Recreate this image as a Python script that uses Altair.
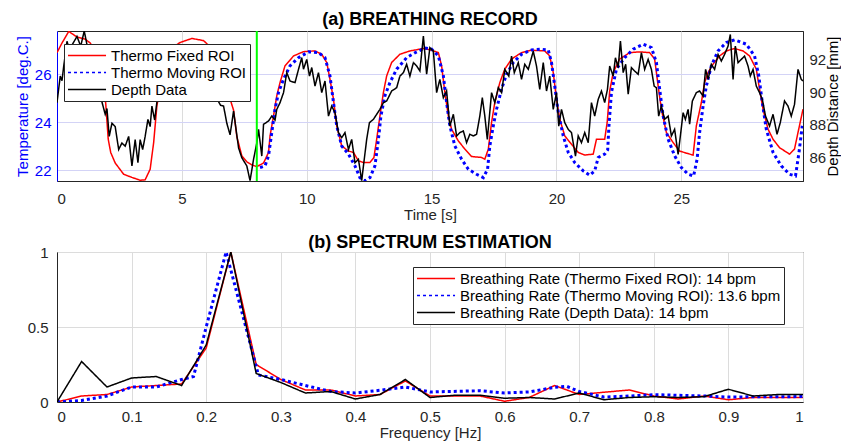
import altair as alt
import pandas as pd

# ---------------- data ----------------
# (a) breathing record: thermo fixed ROI (deg C)
t_fixed = [0, 0.2, 0.47, 0.8, 1.13, 1.33, 1.5, 1.65, 1.8, 1.95, 2.05, 2.15, 2.33, 2.67, 3.0, 3.33, 3.53, 3.73, 3.87, 4.0,
           4.15, 4.35, 4.6, 4.93, 5.4, 5.87, 6.07, 6.3, 6.55, 6.8, 6.95, 7.07, 7.2, 7.4, 7.6, 7.8, 8.0, 8.27, 8.47, 8.53,
           8.67, 8.8, 8.93, 9.13, 9.47, 9.87, 10.33, 10.6, 10.8, 10.93, 11.07, 11.2, 11.4, 11.67, 11.87, 12.07, 12.27,
           12.53, 12.69, 12.8, 12.93, 13.07, 13.2, 13.4, 13.73, 14.13, 14.67, 15.0, 15.27, 15.4, 15.53, 15.67, 15.8,
           16.07, 16.33, 16.6, 17.0, 17.13, 17.27, 17.4, 17.53, 17.73, 17.93, 18.2, 18.6, 19.0, 19.53, 19.73, 19.87,
           20.0, 20.13, 20.33, 20.6, 20.87, 21.13, 21.47, 21.6, 21.93, 22.03, 22.13, 22.27, 22.53, 22.93, 23.33, 23.73,
           23.93, 24.07, 24.2, 24.4, 24.67, 24.93, 25.2, 25.47, 25.6, 25.8, 25.93, 26.07, 26.27, 26.53, 26.8, 27.13,
           27.47, 27.73, 28.0, 28.13, 28.27, 28.47, 28.67, 28.93, 29.33, 29.53, 29.67, 29.87]
temp_fixed = [26.9, 27.3, 27.78, 27.55, 27.46, 27.3, 27.0, 26.3, 25.6, 24.8, 23.3, 22.74, 22.3, 21.83, 21.7, 21.58, 21.6,
              22.04, 23.15, 24.68, 25.6, 26.6, 27.1, 27.32, 27.49, 27.4, 27.2, 26.8, 26.1, 25.4, 24.9, 24.5, 23.4, 22.6,
              22.35, 22.22, 22.15, 22.3, 22.74, 23.43, 24.26, 25.1, 25.65, 26.35, 26.76, 26.94, 26.97, 26.83, 26.49,
              25.79, 24.96, 23.85, 23.01, 22.8, 22.74, 22.39, 22.32, 22.32, 22.53, 23.29, 24.26, 25.24, 25.93, 26.49,
              26.83, 26.97, 27.07, 27.0, 26.9, 26.35, 25.24, 24.26, 23.7, 23.22, 22.88, 22.57, 22.53, 22.46, 22.88,
              23.99, 24.82, 25.65, 26.21, 26.63, 26.9, 27.0, 26.97, 26.76, 26.07, 24.96, 24.13, 23.43, 23.08, 22.74,
              22.63, 22.67, 23.29, 23.29, 24.0, 25.3, 26.07, 26.63, 26.9, 26.93, 26.9, 26.63, 25.51, 24.54, 23.57,
              23.15, 22.8, 22.71, 22.63, 23.85, 24.82, 25.65, 26.07, 26.42, 26.76, 26.97, 27.07, 26.97, 26.76, 26.21,
              25.38, 24.54, 23.71, 23.29, 22.94, 22.67, 22.88, 23.57, 24.54]

# thermo moving ROI (deg C), starts at the sync marker
t_moving = [8.13, 8.33, 8.47, 8.6, 8.73, 8.87, 9.07, 9.33, 9.67, 10.07, 10.47, 10.73, 10.93, 11.07, 11.2, 11.4, 11.67,
            11.93, 12.13, 12.33, 12.53, 12.73, 12.87, 12.97, 13.13, 13.33, 13.6, 14.0, 14.4, 14.73, 15.0, 15.27, 15.47,
            15.6, 15.73, 15.93, 16.2, 16.47, 16.8, 17.07, 17.24, 17.33, 17.47, 17.6, 17.8, 18.0, 18.27, 18.6, 19.0,
            19.4, 19.67, 19.8, 19.93, 20.07, 20.27, 20.47, 20.73, 21.07, 21.33, 21.53, 21.67, 21.93, 22.05, 22.1, 22.2,
            22.4, 22.73, 23.07, 23.47, 23.8, 24.0, 24.13, 24.27, 24.47, 24.73, 25.0, 25.27, 25.49, 25.63, 25.73, 25.87,
            26.0, 26.2, 26.47, 26.8, 27.13, 27.6, 27.93, 28.1, 28.24, 28.4, 28.67, 29.0, 29.33, 29.57, 29.71, 29.84]
temp_moving = [22.11, 22.18, 22.6, 23.57, 24.54, 25.24, 25.79, 26.35, 26.69, 26.93, 26.9, 26.69, 25.93, 24.82, 23.85,
               23.01, 22.67, 22.18, 21.69, 21.56, 21.69, 22.18, 23.29, 24.26, 25.1, 25.65, 26.21, 26.69, 26.93, 27.09,
               27.04, 26.76, 25.93, 24.82, 23.85, 23.01, 22.46, 22.04, 21.83, 21.69, 22.04, 23.01, 23.85, 24.54, 25.38,
               26.0, 26.49, 26.83, 27.01, 27.04, 27.01, 26.49, 25.51, 24.4, 23.43, 22.74, 22.32, 21.97, 21.79, 21.97,
               22.53, 22.67, 22.85, 23.85, 25.24, 26.21, 26.69, 27.04, 27.25, 27.11, 26.49, 25.38, 24.26, 23.29, 22.6,
               22.11, 21.83, 21.76, 22.46, 23.57, 24.68, 25.51, 26.35, 26.97, 27.32, 27.43, 27.25, 26.76, 25.93, 24.82,
               23.71, 22.74, 22.18, 21.83, 21.76, 22.74, 23.85]

# depth data (mm)
t_depth = [0, 0.13, 0.2, 0.27, 0.4, 0.5, 0.65, 0.8, 0.95, 1.09, 1.2, 1.35, 1.5, 1.65, 1.8, 1.93, 2.0, 2.09, 2.2, 2.33,
           2.47, 2.6, 2.73, 2.87, 3.0, 3.13, 3.24, 3.33, 3.43, 3.53, 3.64, 3.73, 3.8, 3.91, 4.0, 4.15, 4.3, 4.45, 4.6,
           4.75, 4.9, 5.05, 5.2, 5.35, 5.5, 5.65, 5.8, 5.95, 6.1, 6.25, 6.4, 6.55, 6.67, 6.8, 6.93, 7.07, 7.27, 7.4,
           7.6, 7.73, 7.87, 8.0, 8.07, 8.2, 8.27, 8.47, 8.6, 8.73, 8.8, 8.93, 9.07, 9.2, 9.33, 9.53, 9.67, 9.8, 9.87,
           10.0, 10.11, 10.2, 10.33, 10.47, 10.6, 10.73, 10.87, 11.0, 11.13, 11.27, 11.4, 11.53, 11.67, 11.8, 11.93,
           12.07, 12.2, 12.27, 12.4, 12.51, 12.67, 12.8, 12.93, 13.07, 13.2, 13.4, 13.6, 13.73, 13.87, 14.0, 14.13,
           14.27, 14.4, 14.53, 14.67, 14.8, 14.93, 15.07, 15.2, 15.33, 15.47, 15.6, 15.73, 15.87, 16.0, 16.13, 16.27,
           16.4, 16.53, 16.67, 16.8, 16.93, 17.03, 17.13, 17.23, 17.4, 17.53, 17.67, 17.8, 17.93, 18.09, 18.2, 18.31,
           18.47, 18.6, 18.73, 18.87, 19.07, 19.2, 19.33, 19.47, 19.6, 19.73, 19.87, 20.0, 20.09, 20.2, 20.33, 20.47,
           20.6, 20.76, 20.87, 21.0, 21.13, 21.27, 21.4, 21.53, 21.67, 21.8, 21.93, 22.04, 22.13, 22.27, 22.36, 22.47,
           22.56, 22.67, 22.77, 22.87, 23.0, 23.13, 23.27, 23.4, 23.53, 23.67, 23.8, 23.91, 24.0, 24.09, 24.2, 24.33,
           24.47, 24.6, 24.73, 24.87, 24.96, 25.07, 25.16, 25.27, 25.33, 25.44, 25.6, 25.73, 25.87, 25.97, 26.07,
           26.2, 26.33, 26.47, 26.6, 26.73, 26.87, 26.96, 27.07, 27.16, 27.27, 27.4, 27.53, 27.67, 27.76, 27.87, 28.0,
           28.13, 28.24, 28.37, 28.53, 28.67, 28.83, 28.96, 29.13, 29.27, 29.4, 29.53, 29.67, 29.8, 29.87]
depth_mm = [89.36, 90.98, 90.7, 91.59, 93.1, 92.6, 93.0, 93.4, 92.8, 93.73, 92.9, 92.3, 91.2, 90.3, 89.4, 88.65, 89.0,
            87.3, 88.1, 87.9, 86.5, 86.9, 86.7, 87.3, 85.5, 87.1, 85.7, 87.1, 86.5, 87.3, 88.34, 87.9, 89.15, 88.3,
            89.4, 90.2, 89.8, 91.0, 90.5, 91.6, 91.0, 92.0, 91.2, 92.2, 91.4, 91.9, 90.8, 91.3, 90.2, 90.6, 89.6, 89.2,
            89.15, 88.1, 87.4, 88.85, 86.6, 86.0, 85.5, 84.6, 85.9, 86.9, 87.73, 86.1, 88.04, 88.24, 88.54, 88.3,
            88.95, 89.36, 89.97, 91.19, 90.68, 90.58, 91.39, 92.1, 91.4, 92.0, 90.98, 91.5, 90.37, 91.19, 89.97,
            90.68, 88.54, 89.15, 88.75, 87.53, 87.22, 87.53, 86.5, 87.12, 85.7, 85.9, 84.6, 85.5, 87.12, 88.14, 88.34,
            88.65, 88.95, 89.36, 89.46, 90.07, 90.27, 90.98, 91.19, 91.7, 90.98, 91.8, 91.6, 91.29, 93.42, 91.09,
            92.71, 92.5, 89.97, 90.78, 89.66, 90.07, 87.93, 88.65, 87.33, 87.53, 87.63, 86.92, 87.43, 87.33, 87.43,
            88.54, 89.66, 88.54, 87.12, 89.97, 89.36, 90.27, 89.97, 91.39, 90.98, 92.2, 91.19, 91.8, 90.78, 91.7,
            91.39, 92.5, 91.59, 90.17, 91.8, 90.07, 90.98, 88.95, 89.97, 87.93, 88.95, 88.14, 87.73, 87.53, 86.1,
            87.33, 86.92, 87.53, 86.92, 89.36, 88.54, 89.56, 90.07, 89.36, 90.17, 91.59, 90.98, 92.1, 91.49, 93.12,
            91.19, 91.7, 89.87, 91.49, 91.29, 91.09, 92.41, 91.39, 92.0, 91.39, 90.37, 90.27, 88.54, 89.15, 88.34,
            88.54, 87.33, 87.73, 86.2, 87.33, 88.75, 88.34, 88.95, 88.04, 89.46, 89.97, 90.07, 89.76, 91.39, 90.78,
            91.7, 91.39, 92.3, 91.9, 92.3, 92.81, 93.52, 90.78, 92.81, 91.8, 92.0, 92.2, 91.59, 90.98, 91.39, 90.37,
            89.97, 89.56, 88.54, 87.93, 88.65, 87.43, 88.14, 89.46, 89.15, 88.54, 89.25, 91.39, 90.78, 90.68]

sync_time = [8.0]

# (b) spectrum estimation
freq = [0, 0.033, 0.067, 0.1, 0.133, 0.167, 0.2, 0.233, 0.267, 0.3, 0.333, 0.367, 0.4, 0.433, 0.467, 0.5, 0.533,
        0.567, 0.6, 0.633, 0.667, 0.7, 0.733, 0.767, 0.8, 0.833, 0.867, 0.9, 0.933, 0.967, 1.0]
spec_fixed = [0, 0.04, 0.05, 0.1, 0.11, 0.12, 0.36, 1.0, 0.25, 0.15, 0.08, 0.08, 0.04, 0.05, 0.14, 0.04, 0.04, 0.04,
              0.005, 0.03, 0.11, 0.05, 0.065, 0.08, 0.04, 0.02, 0.04, 0.015, 0.03, 0.03, 0.03]
spec_depth = [0, 0.27, 0.1, 0.16, 0.17, 0.11, 0.38, 1.0, 0.19, 0.13, 0.06, 0.07, 0.02, 0.05, 0.15, 0.03, 0.045, 0.045,
              0.025, 0.03, 0.02, 0.06, 0.015, 0.03, 0.035, 0.03, 0.035, 0.085, 0.04, 0.05, 0.05]
freq_moving = [0, 0.033, 0.067, 0.1, 0.133, 0.167, 0.183, 0.2, 0.2267, 0.27, 0.3, 0.333, 0.367, 0.4, 0.433, 0.467, 0.5,
               0.567, 0.6, 0.633, 0.667, 0.683, 0.7, 0.733, 0.767, 0.8, 0.867, 0.9, 0.933, 1.0]
spec_moving = [0, 0.01, 0.04, 0.1, 0.1, 0.15, 0.17, 0.5, 1.0, 0.18, 0.15, 0.11, 0.07, 0.06, 0.078, 0.1, 0.067, 0.075,
               0.06, 0.067, 0.098, 0.105, 0.07, 0.033, 0.04, 0.049, 0.04, 0.033, 0.035, 0.036]

SERIES_TOP = ["Thermo Fixed ROI", "Thermo Moving ROI", "Depth Data"]
SERIES_BOT = ["Breathing Rate (Thermo Fixed ROI): 14 bpm",
              "Breathing Rate (Thermo Moving ROI): 13.6 bpm",
              "Breathing Rate (Depth Data): 14 bpm"]

# ---------------- styles ----------------
COLORS = ["#ff0000", "#0000ff", "#000000"]
DASHES = [[1, 0], [3, 3], [1, 0]]
FONT = "Liberation Sans"
W, H = 746, 150
LEG_SYMBOL = "M-1,0H4.07"   # a long horizontal line token, like the reference legend


def enc_variants(thick):
    expr = f"datum.value === '{thick}' ? 3 : 1.5"
    return [
        {"symbols": {"strokeWidth": {"value": {"expr": expr}}}},
        {"symbols": {"strokeWidth": {"signal": expr}}},
        None,
    ]


def make_legend(x, y, enc):
    kw = dict(
        title=None, orient="none", legendX=x, legendY=y,
        fillColor="white", strokeColor="#262626", padding=3,
        symbolType=LEG_SYMBOL, symbolSize=225, symbolStrokeWidth=1.5,
        labelFont=FONT, labelFontSize=15, labelColor="#000000", labelLimit=600,
        rowPadding=0, labelOffset=27,
    )
    if enc is not None:
        kw["encode"] = enc
    return alt.Legend(**kw)


df_fixed = pd.DataFrame({"t": t_fixed, "v": temp_fixed, "series": SERIES_TOP[0]})
df_moving = pd.DataFrame({"t": t_moving, "v": temp_moving, "series": SERIES_TOP[1]})
df_depth = pd.DataFrame({"t": t_depth, "v": depth_mm, "series": SERIES_TOP[2]})
df_sync = pd.DataFrame({"t": sync_time})
df_sf = pd.DataFrame({"f": freq, "p": spec_fixed, "series": SERIES_BOT[0]})
df_sm = pd.DataFrame({"f": freq_moving, "p": spec_moving, "series": SERIES_BOT[1]})
df_sd = pd.DataFrame({"f": freq, "p": spec_depth, "series": SERIES_BOT[2]})


def build(enc_top, enc_bot, bot_title_offset):
    # ---------------- top panel ----------------
    x_top = alt.X("t:Q", scale=alt.Scale(domain=[0, 29.87], nice=False, zero=False),
                  axis=alt.Axis(values=[0, 5, 10, 15, 20, 25], title="Time [s]", grid=True,
                                gridColor="#dcdcdc", labelPadding=10, titlePadding=1.5))
    leg_top = make_legend(7, 13, enc_top)
    color_top = alt.Color("series:N", scale=alt.Scale(domain=SERIES_TOP, range=COLORS), legend=leg_top)
    dash_top = alt.StrokeDash("series:N", scale=alt.Scale(domain=SERIES_TOP, range=DASHES), legend=leg_top)
    y_left = alt.Y("v:Q", scale=alt.Scale(domain=[21.55, 27.8], nice=False, zero=False),
                   axis=alt.Axis(orient="left", values=[22, 24, 26], title="Temperature [deg.C.]",
                                 titleColor="#0000ff", labelColor="#0000ff", domainColor="#0000ff",
                                 gridColor="#d3d3f6", grid=True, labelPadding=6, titlePadding=4,
                                 minExtent=23, maxExtent=23))
    y_right = alt.Y("v:Q", scale=alt.Scale(domain=[84.58, 93.73], nice=False, zero=False),
                    axis=alt.Axis(orient="right", values=[86, 88, 90, 92], title="Depth Distance [mm]",
                                  titleAngle=270, titleBaseline="top",
                                  grid=False, labelPadding=6, titlePadding=-1, titleColor="#000000",
                                  minExtent=23, maxExtent=23))

    red = alt.Chart(df_fixed).mark_line(strokeWidth=1.5, clip=True).encode(
        x=x_top, y=y_left, color=color_top, strokeDash=dash_top)
    blue = alt.Chart(df_moving).mark_line(strokeWidth=3, clip=True).encode(
        x=x_top, y=y_left, color=color_top, strokeDash=dash_top)
    black = alt.Chart(df_depth).mark_line(strokeWidth=1.5, clip=True).encode(
        x=x_top, y=y_right, color=color_top, strokeDash=dash_top)
    green = alt.Chart(df_sync).mark_rule(color="#00ff00", strokeWidth=2).encode(x=x_top)

    top = alt.layer(alt.layer(red, blue), black, green).resolve_scale(y="independent").properties(
        width=W, height=H, title=alt.TitleParams("(a) BREATHING RECORD", frame="group", offset=1))

    # ---------------- bottom panel ----------------
    x_bot = alt.X("f:Q", scale=alt.Scale(domain=[0, 1], nice=False),
                  axis=alt.Axis(values=[0, 0.1, 0.2, 0.3, 0.4, 0.5, 0.6, 0.7, 0.8, 0.9, 1], format="~g",
                                title="Frequency [Hz]", grid=True, labelPadding=7, titlePadding=1))
    y_bot = alt.Y("p:Q", scale=alt.Scale(domain=[0, 1], nice=False),
                  axis=alt.Axis(values=[0, 0.5, 1], format="~g", title=None, grid=True,
                                labelPadding=9, minExtent=23, maxExtent=23))
    leg_bot = make_legend(356, 15, enc_bot)
    color_bot = alt.Color("series:N", scale=alt.Scale(domain=SERIES_BOT, range=COLORS), legend=leg_bot)
    dash_bot = alt.StrokeDash("series:N", scale=alt.Scale(domain=SERIES_BOT, range=DASHES), legend=leg_bot)

    r2 = alt.Chart(df_sf).mark_line(strokeWidth=1.5, clip=True).encode(
        x=x_bot, y=y_bot, color=color_bot, strokeDash=dash_bot)
    b2 = alt.Chart(df_sm).mark_line(strokeWidth=3, clip=True).encode(
        x=x_bot, y=y_bot, color=color_bot, strokeDash=dash_bot)
    k2 = alt.Chart(df_sd).mark_line(strokeWidth=1.5, clip=True).encode(
        x=x_bot, y=y_bot, color=color_bot, strokeDash=dash_bot)

    bottom = alt.layer(r2, b2, k2).properties(
        width=W, height=H,
        title=alt.TitleParams("(b) SPECTRUM ESTIMATION", frame="group", offset=bot_title_offset))

    return alt.vconcat(top, bottom, spacing=10).resolve_scale(
        color="independent", strokeDash="independent").resolve_legend(
        color="independent", strokeDash="independent").properties(
        padding={"left": 6, "top": 2, "right": 0, "bottom": 0}, background="white"
    ).configure_view(stroke="#262626", strokeWidth=1).configure_axis(
        labelFont=FONT, titleFont=FONT, labelFontSize=15, titleFontSize=15, titleFontWeight="normal",
        labelColor="#262626", titleColor="#262626", domainColor="#262626", gridColor="#dcdcdc",
        ticks=False, tickSize=0, gridWidth=1
    ).configure_title(font=FONT, fontSize=18, fontWeight="bold", color="#000000", anchor="middle")


chart = None
for off in (-7, 0):
    for e_top, e_bot in zip(enc_variants(SERIES_TOP[1]), enc_variants(SERIES_BOT[1])):
        try:
            c = build(e_top, e_bot, off)
            c.to_dict()
            chart = c
            break
        except Exception:
            continue
    if chart is not None:
        break
if chart is None:
    chart = build(None, None, 0)

chart.save("out.html", embed_options={"renderer": "svg", "actions": False})
